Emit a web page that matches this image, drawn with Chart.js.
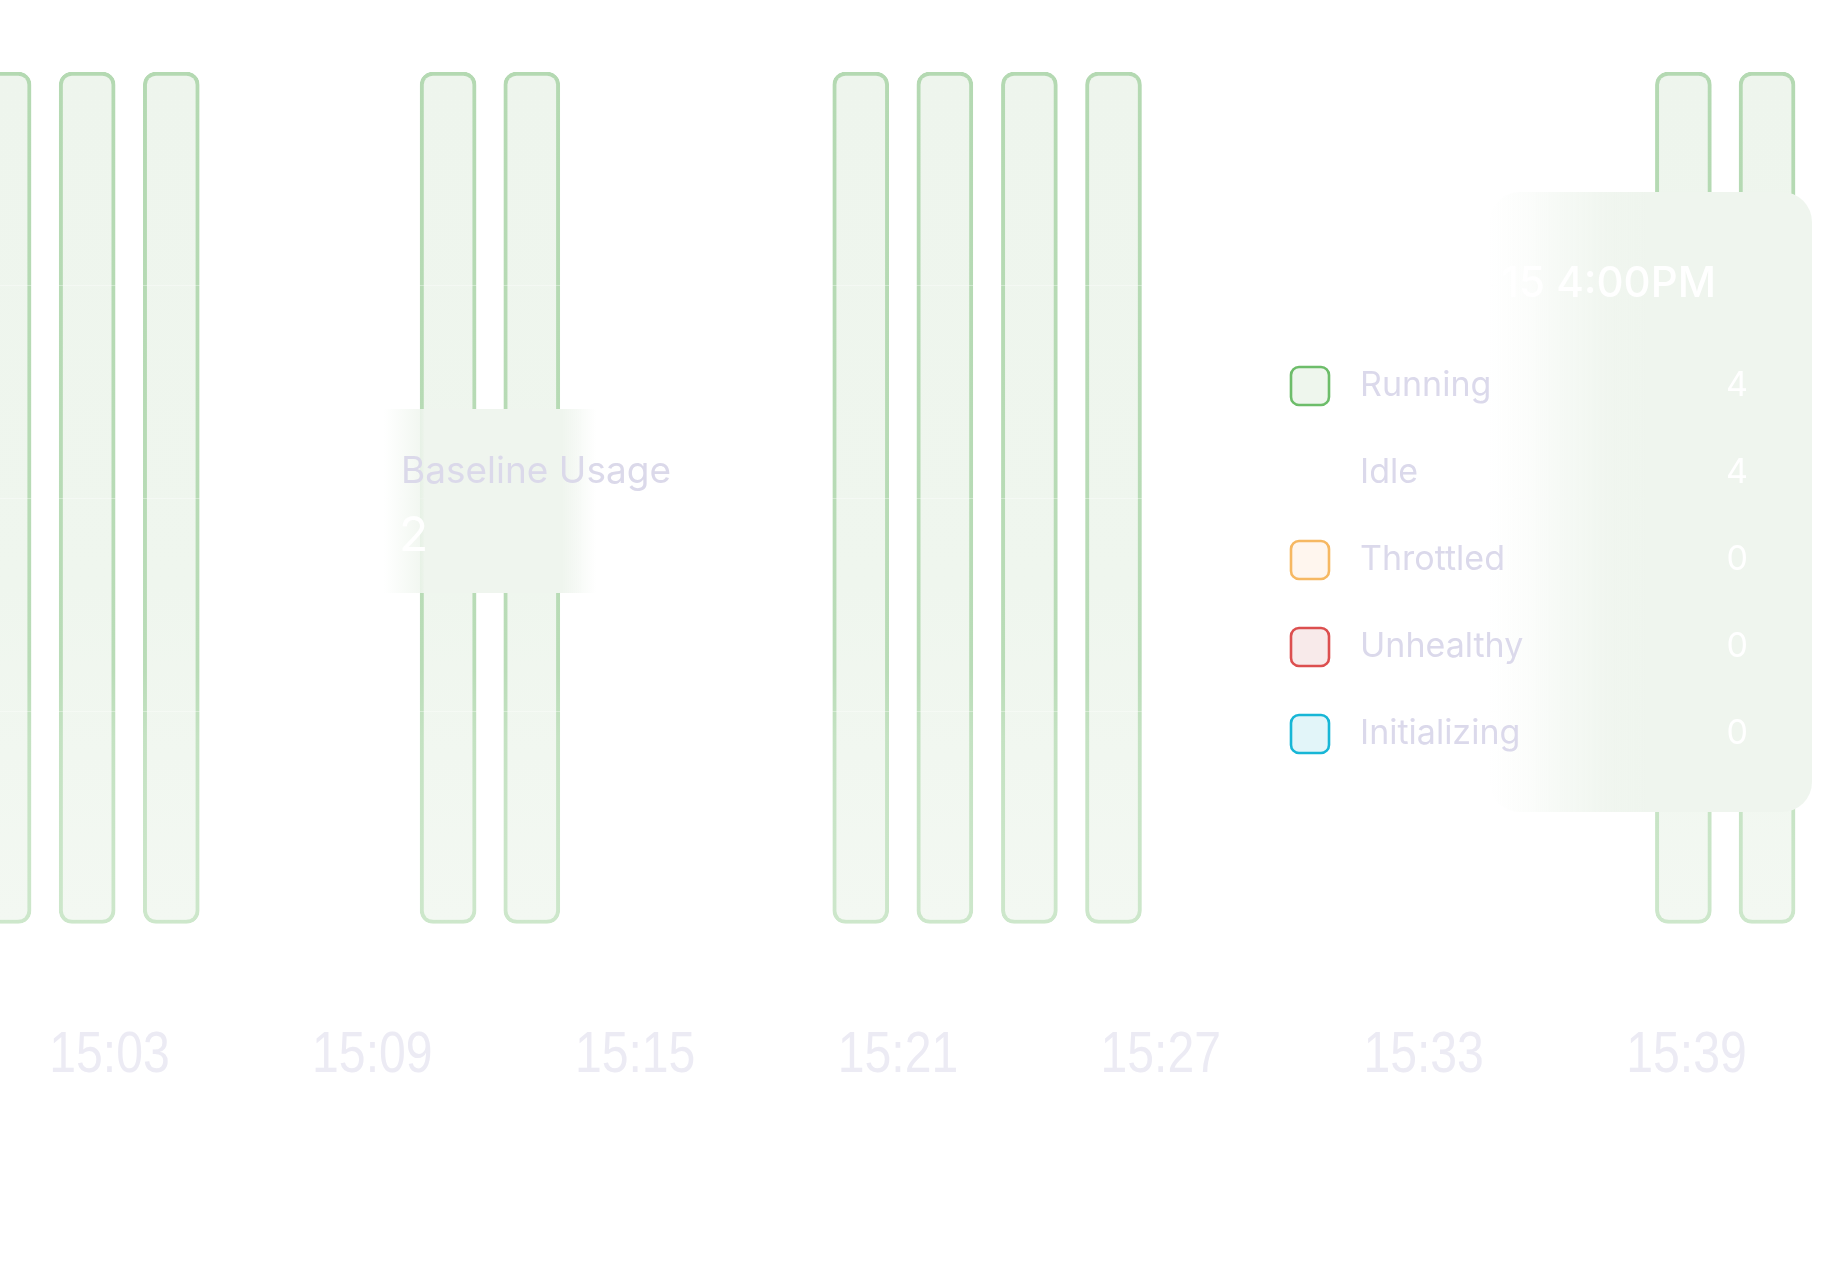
<!DOCTYPE html>
<html>
<head>
<meta charset="utf-8">
<script src="https://cdn.jsdelivr.net/npm/chart.js@4.4.1/dist/chart.umd.min.js"></script>
<style>
  html, body { margin: 0; padding: 0; background: #ffffff; }
  #wrap { width: 1824px; height: 1278px; position: relative; }
</style>
</head>
<body>
<div id="wrap"><canvas id="c" width="1824" height="1278"></canvas></div>
<script>
// ---- data (minutes after 15:00 for the bar timestamps) ----
const barTimes = [0.57, 2.49, 4.41, 10.73, 12.64, 20.15, 22.07, 24.0, 25.92, 38.93, 40.84];
const runningValues = [4, 4, 4, 4, 4, 4, 4, 4, 4, 4, 4];
const tickValues = [3, 9, 15, 21, 27, 33, 39];
const tickLabels = ['15:03', '15:09', '15:15', '15:21', '15:27', '15:33', '15:39'];
const baselineLabel = 'Baseline Usage';
const baselineValue = 2;
const tooltipTitle = 'Ene 15 4:00PM';
const statusLabels = ['Running', 'Idle', 'Throttled', 'Unhealthy', 'Initializing'];
const statusValues = [4, 4, 0, 0, 0];
const statusBorders = ['#6dbd6a', 'rgba(0,0,0,0)', '#f6b862', '#dc4f4f', '#17b6d6'];
const statusFills = ['#eef6ed', 'rgba(0,0,0,0)', '#fff6ee', '#f8eaea', '#e2f5f9'];

const xMin = 0.5, xMax = 42.14;

function vGrad(chart, stops) {
  const a = chart.chartArea;
  if (!a) return stops[0][1];
  const g = chart.ctx.createLinearGradient(0, a.top, 0, a.bottom);
  stops.forEach(s => g.addColorStop(s[0], s[1]));
  return g;
}

function roundRect(ctx, x, y, w, h, r) {
  ctx.beginPath();
  ctx.moveTo(x + r, y);
  ctx.lineTo(x + w - r, y);
  ctx.arcTo(x + w, y, x + w, y + r, r);
  ctx.lineTo(x + w, y + h - r);
  ctx.arcTo(x + w, y + h, x + w - r, y + h, r);
  ctx.lineTo(x + r, y + h);
  ctx.arcTo(x, y + h, x, y + h - r, r);
  ctx.lineTo(x, y + r);
  ctx.arcTo(x, y, x + r, y, r);
  ctx.closePath();
}

const overlayPlugin = {
  id: 'overlay',
  afterDraw(chart) {
    const ctx = chart.ctx;
    const xs = chart.scales.x, ys = chart.scales.y;

    // x tick labels (condensed)
    ctx.save();
    ctx.fillStyle = '#ecebf4';
    ctx.font = '400 58px "Liberation Sans", Arial, sans-serif';
    ctx.textAlign = 'center';
    ctx.textBaseline = 'middle';
    tickValues.forEach((v, i) => {
      const px = xs.getPixelForValue(v);
      ctx.save();
      ctx.translate(px, 1056);
      ctx.scale(0.83, 1);
      ctx.fillText(tickLabels[i], 0, 0);
      ctx.restore();
    });
    ctx.restore();

    // baseline label box
    const by = ys.getPixelForValue(baselineValue);
    ctx.save();
    const bx0 = 384, bx1 = 596, bt = by - 89, bb = by + 95;
    const g = ctx.createLinearGradient(bx0, 0, bx1, 0);
    g.addColorStop(0, 'rgba(239,245,238,0)');
    g.addColorStop(0.2, 'rgba(239,245,238,1)');
    g.addColorStop(0.84, 'rgba(239,245,238,1)');
    g.addColorStop(1, 'rgba(239,245,238,0)');
    ctx.fillStyle = g;
    ctx.fillRect(bx0, bt, bx1 - bx0, bb - bt);
    ctx.fillStyle = '#dbd9ea';
    ctx.font = '400 37px Inter, "Noto Sans", sans-serif';
    ctx.textAlign = 'left';
    ctx.textBaseline = 'alphabetic';
    ctx.fillText(baselineLabel, 401, by - 15);
    ctx.fillStyle = '#ffffff';
    ctx.font = '400 48px Inter, "Noto Sans", sans-serif';
    ctx.fillText(String(baselineValue), 399, by + 53);
    ctx.restore();

    // tooltip-like panel
    ctx.save();
    const px0 = 1490, py0 = 192, px1 = 1812, py1 = 812;
    const pg = ctx.createLinearGradient(px0, 0, px1, 0);
    const span = px1 - px0;
    pg.addColorStop(0, 'rgba(239,245,238,0)');
    pg.addColorStop((1530 - px0) / span, 'rgba(239,245,238,0.25)');
    pg.addColorStop((1565 - px0) / span, 'rgba(239,245,238,0.6)');
    pg.addColorStop((1610 - px0) / span, 'rgba(239,245,238,0.92)');
    pg.addColorStop((1645 - px0) / span, 'rgba(239,245,238,1)');
    pg.addColorStop(1, 'rgba(239,245,238,1)');
    ctx.fillStyle = pg;
    roundRect(ctx, px0, py0, px1 - px0, py1 - py0, 30);
    ctx.fill();

    ctx.fillStyle = '#ffffff';
    ctx.font = '500 42px Inter, "Noto Sans", sans-serif';
    ctx.textAlign = 'right';
    ctx.textBaseline = 'middle';
    ctx.fillText(tooltipTitle, 1716, 284);

    const rowY0 = 386, rowStep = 87;
    statusLabels.forEach((lab, i) => {
      const y = rowY0 + i * rowStep;
      ctx.fillStyle = statusFills[i];
      roundRect(ctx, 1291, y - 19, 38, 38, 8);
      ctx.fill();
      ctx.strokeStyle = statusBorders[i];
      ctx.lineWidth = 2.6;
      ctx.stroke();
      ctx.fillStyle = '#dbd9eb';
      ctx.font = '400 34px Inter, "Noto Sans", sans-serif';
      ctx.textAlign = 'left';
      ctx.textBaseline = 'middle';
      ctx.fillText(lab, 1360, y);
      ctx.fillStyle = '#ffffff';
      ctx.textAlign = 'right';
      ctx.fillText(String(statusValues[i]), 1748, y);
    });
    ctx.restore();
  }
};

new Chart(document.getElementById('c'), {
  type: 'bar',
  data: {
    datasets: [{
      label: 'Running',
      data: barTimes.map((t, i) => ({ x: t, y: runningValues[i] })),
      barThickness: 56,
      borderWidth: 4,
      borderRadius: 13,
      borderSkipped: false,
      backgroundColor: (c) => vGrad(c.chart, [[0, '#eef5ed'], [0.6, '#eff6ee'], [1, '#f3f8f2']]),
      borderColor: (c) => vGrad(c.chart, [[0, '#b4d9b2'], [0.7, '#b9dcb7'], [0.78, '#c4e2c2'], [1, '#cde7cb']])
    }]
  },
  options: {
    responsive: false,
    animation: false,
    events: [],
    layout: { padding: { top: 72, bottom: 354, left: 0, right: 0 } },
    plugins: { legend: { display: false }, tooltip: { enabled: false } },
    scales: {
      x: { type: 'linear', min: xMin, max: xMax, offset: false, display: false },
      y: {
        min: 0, max: 4,
        ticks: { display: false, stepSize: 1 },
        border: { display: false },
        grid: {
          drawTicks: false,
          z: 1,
          color: (c) => (c.tick && c.tick.value > 0 && c.tick.value < 4) ? 'rgba(255,255,255,0.35)' : 'rgba(0,0,0,0)'
        }
      }
    }
  },
  plugins: [overlayPlugin]
});
</script>
</body>
</html>
